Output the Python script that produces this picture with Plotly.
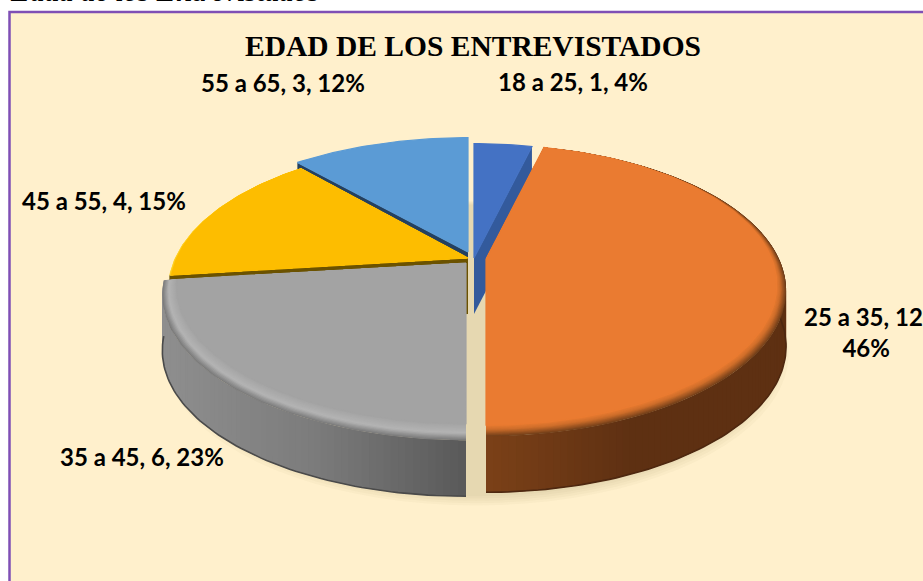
import math

import plotly.graph_objects as go

categories = ["18 a 25", "25 a 35", "35 a 45", "45 a 55", "55 a 65"]
values = [1, 12, 6, 4, 3]
top_colors = ["#4472c4", "#ea7b31", "#a3a3a3", "#fdbd00", "#5b9bd5"]
cut_colors = ["#335a9c", None, None, "#6b5200", "#24405f"]
title_text = "EDAD DE LOS ENTREVISTADOS"
caption_text = "Edad de los Entrevistados"

# exploded centre of each slice in page pixels, plus a small width factor
centers = [(474, 258, 1.0), (486, 259, 1.0), (466, 263, 1.012), (468, 258, 1.0), (468, 252, 1.02)]
label_pos = [(573, 81), (866, 332), (142, 456), (104, 200), (283, 82)]

PERSP = 0.216
RX = 293
RY = 139
WALL = 56
BG = "#fff0cc"


def project(center, angle, r=1.0):
    u = math.sin(angle) * r
    v = math.cos(angle) * r
    w = 1 + PERSP * v
    return center[0] + RX * center[2] * u / w, center[1] - RY * v / w


def mix(c1, c2, t):
    t = max(0, min(1, t))
    a = [int(c1[i:i + 2], 16) for i in (1, 3, 5)]
    b = [int(c2[i:i + 2], 16) for i in (1, 3, 5)]
    return "#" + "".join(f"{round(p + (q - p) * t):02x}" for p, q in zip(a, b))


def arc(center, a0, a1, r=1.0, bevel=0.0):
    n = max(2, int(abs(a1 - a0) / 0.02))
    pts = []
    for i in range(n + 1):
        a = a0 + (a1 - a0) * i / n
        rr = r if not bevel else 1 - bevel * (1 - math.cos(a)) / 2
        pts.append(project(center, a, rr))
    return pts


fig = go.Figure()


def polygon(pts, color, width=0.0):
    fig.add_trace(
        go.Scatter(
            x=[p[0] for p in pts] + [pts[0][0]],
            y=[p[1] for p in pts] + [pts[0][1]],
            mode="lines",
            fill="toself",
            fillcolor=color,
            line=dict(width=width, color=color),
            hoverinfo="skip",
            showlegend=False,
        )
    )


def top_face(i, a0, a1, stops=None):
    c = centers[i]
    if stops:
        steps = 14
        for k in range(steps):
            b = stops[-1][0] * k / steps
            color = stops[-1][1]
            for (b0, c0), (b1, c1) in zip(stops, stops[1:]):
                if b0 <= b <= b1:
                    color = mix(c0, c1, (b - b0) / (b1 - b0))
                    break
            polygon([c] + arc(c, a0, a1, bevel=b), color)
    polygon([c] + arc(c, a0, a1, bevel=stops[-1][0] if stops else 0), top_colors[i], width=1.2)


def wall(i, a0, a1, shade, lip):
    c = centers[i]
    pts = arc(c, a0, a1)
    # each strip runs under the next one so no seams show
    for j in range(0, len(pts) - 1):
        p = pts[j]
        q = pts[min(j + 3, len(pts) - 1)]
        polygon([p, q, (q[0], q[1] + WALL), (p[0], p[1] + WALL)], shade(abs(p[0] - c[0]) / 300))
    fig.add_trace(
        go.Scatter(
            x=[p[0] for p in pts],
            y=[p[1] + WALL for p in pts],
            mode="lines",
            line=dict(width=1.6, color=lip),
            hoverinfo="skip",
            showlegend=False,
        )
    )


def cut(i, a):
    c = centers[i]
    rim = project(c, a)
    polygon([c, rim, (rim[0], rim[1] + WALL), (c[0], c[1] + WALL)], cut_colors[i])


total = sum(values)
angles = [0]
for v in values:
    angles.append(angles[-1] + v / total * 2 * math.pi)

# soft shadow under the pie
for scale in (1.04, 1.03, 1.02, 1.01, 1.0):
    sc = (476, 258 + WALL + 2, 1.0)
    fig.add_trace(
        go.Scatter(
            x=[project(sc, k * 0.02 * math.pi, scale)[0] for k in range(101)],
            y=[project(sc, k * 0.02 * math.pi, scale)[1] + 3 for k in range(101)],
            mode="lines",
            fill="toself",
            fillcolor="rgba(110,90,30,0.03)",
            line=dict(width=0),
            hoverinfo="skip",
            showlegend=False,
        )
    )

# back to front
cut(4, angles[4])
top_face(4, angles[4], angles[5])
cut(3, angles[3])
top_face(3, angles[3], angles[4], [(0, "#ffd83a"), (0.015, top_colors[3])])
cut(0, angles[1])
top_face(0, angles[0], angles[1])

wall(
    2,
    angles[2],
    angles[3],
    lambda t: mix("#5a5a5a", "#7c7c7c", t * 2) if t < 0.5 else mix("#7c7c7c", "#8e8e8e", (t - 0.5) * 2),
    "#4a4a4a",
)
top_face(2, angles[2], angles[3], [(0, "#7c7c7c"), (0.03, "#b4b4b4"), (0.075, top_colors[2])])

wall(1, angles[1], angles[2], lambda t: mix("#7c4118", "#5e3012", t * 2), "#4e2810")
top_face(1, angles[1], angles[2], [(0, "#74401a"), (0.03, "#d06f2b"), (0.05, top_colors[1])])

annotations = [
    dict(x=473, y=46, text=f"<b>{title_text}</b>", xref="x", yref="y",
         font=dict(family="Liberation Serif", size=29.5, color="#000000")),
    dict(x=165, y=1 + 9 / 581, text=f"<b><i>{caption_text}</i></b>", xref="x", yref="paper",
         yanchor="middle", font=dict(family="Liberation Serif", size=29, color="#000000")),
]
for i, cat in enumerate(categories):
    pct = round(values[i] / total * 100)
    text = f"<b>{cat}, {values[i]}, {pct}%</b>"
    if i == 1:
        text = f"<b>{cat}, {values[i]},<br>{pct}%</b>"
    annotations.append(
        dict(x=label_pos[i][0], y=label_pos[i][1], text=text, xref="x", yref="y",
             font=dict(family="Lato", size=24, color="#000000"))
    )

fig.update_layout(
    width=923,
    height=581,
    margin=dict(l=0, r=0, t=0, b=0),
    paper_bgcolor="white",
    plot_bgcolor="white",
    showlegend=False,
    xaxis=dict(range=[0, 923], visible=False, fixedrange=True),
    yaxis=dict(range=[581, 0], visible=False, fixedrange=True),
    shapes=[
        dict(type="rect", x0=9.5, y0=12, x1=960, y1=620, fillcolor=BG,
             line=dict(color="#7f4fb5", width=2.5), layer="below"),
    ],
    annotations=[dict(a, showarrow=False) for a in annotations],
)

fig.write_html(
    "out.html",
    config=dict(displayModeBar=False),
    post_script="document.body.style.margin='0';document.body.style.overflow='hidden';",
)
